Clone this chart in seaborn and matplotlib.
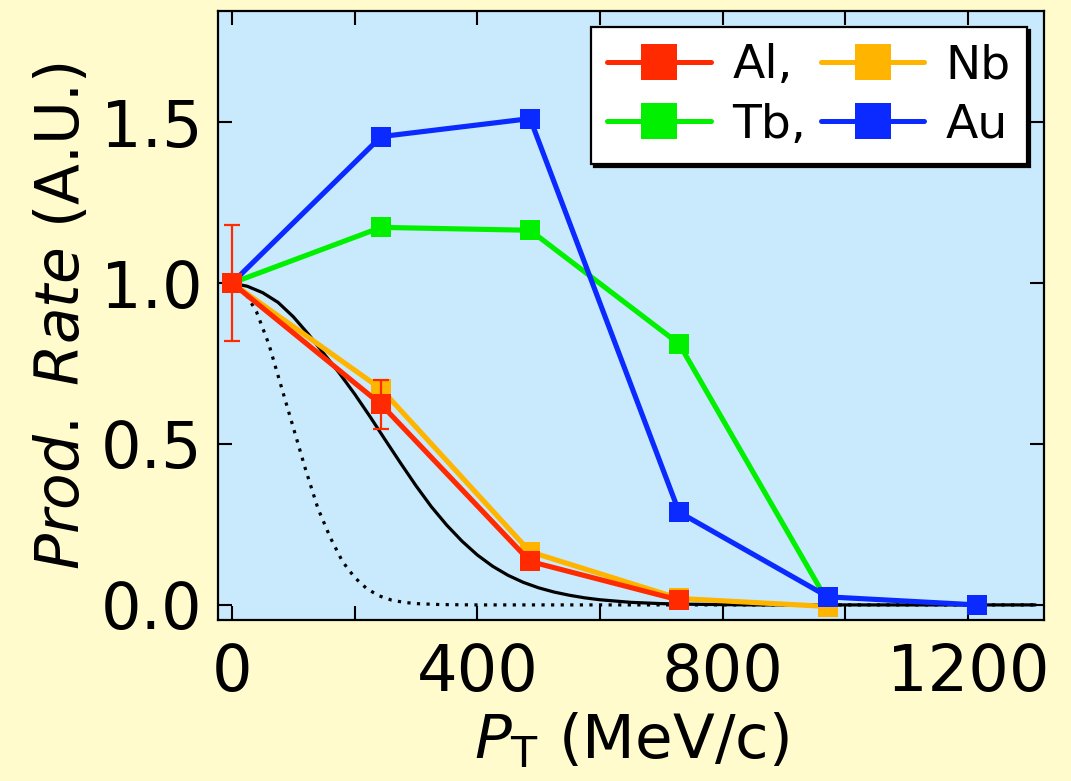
import numpy as np
import pandas as pd
import matplotlib
matplotlib.use("Agg")
import matplotlib.pyplot as plt
from matplotlib.lines import Line2D
from matplotlib.ticker import FixedLocator, FormatStrFormatter
import seaborn as sns

# ---- measured production rates (normalised to 1 at P_T = 0) ----
pt_al = [0, 243, 486, 729]
rate_al = [1.00, 0.623, 0.135, 0.015]
err_al = [0.18, 0.076, 0.0, 0.0]

pt_nb = [0, 243, 486, 729, 972]
rate_nb = [1.00, 0.671, 0.165, 0.020, -0.005]

pt_tb = [0, 243, 486, 729, 972]
rate_tb = [1.00, 1.173, 1.164, 0.811, 0.008]

pt_au = [0, 243, 486, 729, 972, 1215]
rate_au = [1.00, 1.455, 1.511, 0.288, 0.025, 0.000]

colors = {"Al,": "#FF2A00", "Nb": "#FFB400", "Tb,": "#00F000", "Au": "#0A2AFF"}

# ---- model curves ----
pt_wide = [0, 25, 50, 75, 100, 125, 150, 175, 200, 225, 250, 275, 300, 325,
           350, 375, 400, 425, 450, 475, 500, 525, 550, 575, 600, 650, 700,
           750, 800, 850, 1310]
rate_wide = [1.0, 0.99, 0.97, 0.94, 0.895, 0.84, 0.78, 0.72, 0.655, 0.585,
             0.512, 0.44, 0.37, 0.305, 0.248, 0.198, 0.155, 0.12, 0.092,
             0.07, 0.053, 0.04, 0.03, 0.022, 0.016, 0.008, 0.004, 0.002,
             0.001, 0.0, 0.0]

pt_narrow = [0, 20, 40, 60, 80, 100, 120, 140, 160, 180, 200, 220, 240, 260,
             280, 300, 340, 400, 1310]
rate_narrow = [1.0, 0.975, 0.91, 0.81, 0.68, 0.55, 0.42, 0.30, 0.21, 0.135,
               0.085, 0.05, 0.028, 0.015, 0.008, 0.004, 0.001, 0.0, 0.0]

frames = []
for name, xs, ys in [("Tb,", pt_tb, rate_tb), ("Nb", pt_nb, rate_nb),
                     ("Au", pt_au, rate_au), ("Al,", pt_al, rate_al)]:
    frames.append(pd.DataFrame({"pt": xs, "rate": ys, "target": name}))
df = pd.concat(frames, ignore_index=True)

sns.set_style("ticks")
plt.rcParams["font.family"] = ["DejaVu Sans"]
plt.rcParams["mathtext.fontset"] = "dejavusans"
for key in ["text.color", "axes.labelcolor", "xtick.color", "ytick.color",
            "xtick.labelcolor", "ytick.labelcolor"]:
    plt.rcParams[key] = "black"

fig = plt.figure(figsize=(10.71, 7.81), dpi=100, facecolor="#FFFBCD")
ax = fig.add_axes([0.2035, 0.2061, 0.7713, 0.7797])
ax.set_facecolor("#C8EAFC")


def new_lines(before):
    return ax.lines[before:]


# model curves underneath the data
n0 = len(ax.lines)
sns.lineplot(x=pt_wide, y=rate_wide, color="black", ax=ax, sort=False)
for ln in new_lines(n0):
    ln.set_linewidth(2.3)
    ln.set_zorder(2)

n0 = len(ax.lines)
sns.lineplot(x=pt_narrow, y=rate_narrow, color="black", ax=ax, sort=False)
for ln in new_lines(n0):
    ln.set_linewidth(2.3)
    ln.set_linestyle((0, (1, 2)))
    ln.set_zorder(2)

n0 = len(ax.lines)
sns.lineplot(data=df, x="pt", y="rate", hue="target",
             hue_order=["Tb,", "Nb", "Au", "Al,"], palette=colors,
             marker="s", sort=False, legend=False, ax=ax)
for ln in new_lines(n0):
    ln.set_linewidth(3.7)
    ln.set_markersize(15)
    ln.set_markeredgewidth(0)
    ln.set_zorder(3)

ax.errorbar(pt_al[:2], rate_al[:2], yerr=err_al[:2], fmt="none",
            ecolor="#FF2A00", elinewidth=1.6, capsize=6, capthick=1.6,
            zorder=4)

ax.set_xlim(-23, 1324)
ax.set_ylim(-0.047, 1.845)
ax.xaxis.set_major_locator(FixedLocator([0, 400, 800, 1200]))
ax.xaxis.set_minor_locator(FixedLocator([200, 600, 1000]))
ax.yaxis.set_major_locator(FixedLocator([0.0, 0.5, 1.0, 1.5]))
ax.yaxis.set_major_formatter(FormatStrFormatter("%.1f"))

for side in ["left", "right", "top", "bottom"]:
    ax.spines[side].set_visible(True)
    ax.spines[side].set_linewidth(1.6)
    ax.spines[side].set_color("black")

ax.tick_params(which="both", direction="in", top=True, right=True,
               length=10, width=1.5, color="black")
ax.tick_params(axis="x", which="major", labelsize=46, pad=16)
ax.tick_params(axis="y", which="major", labelsize=46, pad=11)

ax.set_xlabel(r"$P_{\mathrm{T}}$ (MeV/c)", fontsize=44)
ax.set_ylabel(r"$\mathit{Prod.}$ $\mathit{Rate}$ (A.U.)", fontsize=43)
ax.xaxis.set_label_coords(0.5, -0.150)
ax.yaxis.set_label_coords(-0.153, 0.5)

handles = [Line2D([], [], color=colors[n], marker="s", markersize=26,
                  markeredgewidth=0, linewidth=3.6) for n in ["Al,", "Tb,", "Nb", "Au"]]
leg = ax.legend(handles, ["Al,", "Tb,", "Nb", "Au"], ncol=2,
                loc="upper right", bbox_to_anchor=(0.98, 0.974),
                borderaxespad=0, fontsize=34, frameon=True, fancybox=False,
                shadow={"color": "black", "alpha": 1.0},
                handlelength=2.2, handletextpad=0.45, columnspacing=0.3,
                labelspacing=0.3, borderpad=0.35)
leg.get_frame().set_edgecolor("black")
leg.get_frame().set_linewidth(1.6)
leg.get_frame().set_facecolor("white")
leg.get_frame().set_alpha(1.0)

fig.savefig("out.png", dpi=100, facecolor=fig.get_facecolor())
